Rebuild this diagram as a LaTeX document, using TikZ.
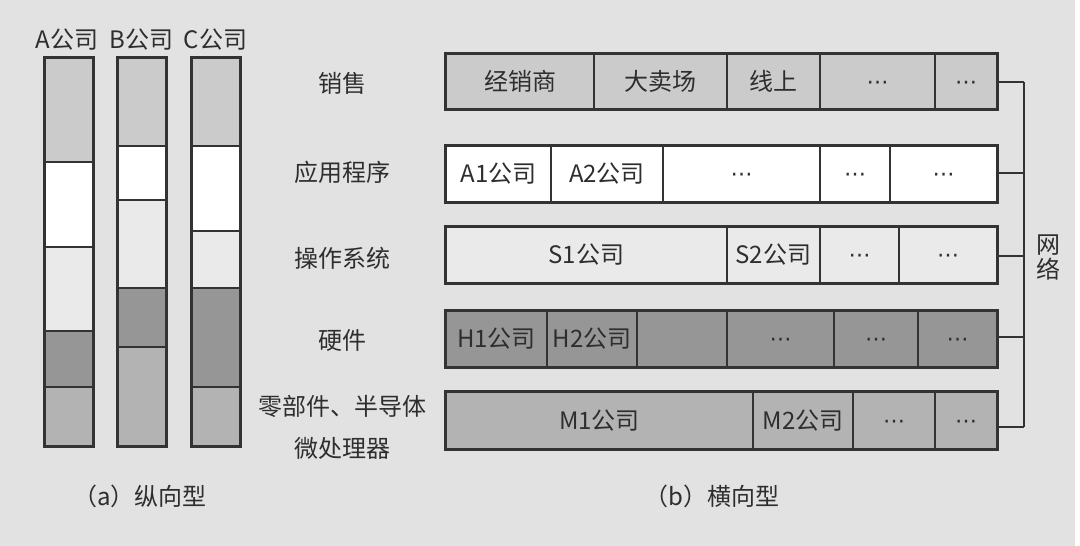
\documentclass[tikz,border=0pt]{standalone}
\usepackage{fontspec}
\setmainfont{Noto Sans CJK SC}
\newfontfamily\dvfont{DejaVu Sans}
\definecolor{bgc}{HTML}{E2E2E2}
\definecolor{linec}{HTML}{333333}
\definecolor{textc}{HTML}{2E2E2E}
\definecolor{csales}{HTML}{CBCBCB}
\definecolor{capp}{HTML}{FFFFFF}
\definecolor{cos}{HTML}{EAEAEA}
\definecolor{chw}{HTML}{969696}
\definecolor{cpart}{HTML}{B3B3B3}
\newcommand\mkcell[7]{\node[cell, fill=#6, minimum width={#3-#2}, minimum height={#5-#4}] (#1) at ({(#2+#3)/2},{(#4+#5)/2}) {#7};}
\newcommand\dts{\raisebox{-7.5pt}[0pt][0pt]{\dvfont\fontsize{22}{24}\selectfont ⋯}}
\begin{document}
\begin{tikzpicture}[x=1pt,y=-1pt,
  every node/.style={font=\fontsize{24}{25}\selectfont, text=textc},
  cell/.style={draw=linec, line width=1.1pt, inner sep=0pt, rectangle},
  frame/.style={draw=linec, line width=2pt},
  net/.style={draw=linec, line width=1.2pt},
  lbl/.style={inner sep=0pt}]
\useasboundingbox (0,0) rectangle (1080,546);
\fill[white] (0,0) rectangle (1080,546);
\fill[bgc] (0,0) rectangle (1075,546);

% ---- (a) vertical columns ----
\node[lbl] (la) at (67,40) {A公司};
\node[lbl] (lb) at (141.5,40) {B公司};
\node[lbl] (lc) at (215.5,40) {C公司};

\mkcell{a1}{45}{93}{58}{162}{csales}{}
\mkcell{a2}{45}{93}{162}{247}{capp}{}
\mkcell{a3}{45}{93}{247}{331}{cos}{}
\mkcell{a4}{45}{93}{331}{387}{chw}{}
\mkcell{a5}{45}{93}{387}{446}{cpart}{}
\draw[frame] (a1.north west) rectangle (a5.south east);

\mkcell{b1}{118}{166}{58}{146}{csales}{}
\mkcell{b2}{118}{166}{146}{200}{capp}{}
\mkcell{b3}{118}{166}{200}{288}{cos}{}
\mkcell{b4}{118}{166}{288}{347}{chw}{}
\mkcell{b5}{118}{166}{347}{446}{cpart}{}
\draw[frame] (b1.north west) rectangle (b5.south east);

\mkcell{c1}{192}{240}{58}{146}{csales}{}
\mkcell{c2}{192}{240}{146}{231}{capp}{}
\mkcell{c3}{192}{240}{231}{288}{cos}{}
\mkcell{c4}{192}{240}{288}{387}{chw}{}
\mkcell{c5}{192}{240}{387}{446}{cpart}{}
\draw[frame] (c1.north west) rectangle (c5.south east);

\node[lbl] (capa) at (140,496) {（a）纵向型};

% ---- row labels ----
\node[lbl] (t1) at (342,83) {销售};
\node[lbl] (t2) at (342,172) {应用程序};
\node[lbl] (t3) at (342,258) {操作系统};
\node[lbl] (t4) at (342,340) {硬件};
\node[lbl] (t5) at (342,406) {零部件、半导体};
\node[lbl] (t6) at (342,448) {微处理器};

% ---- (b) horizontal rows ----
\mkcell{r1a}{446}{594}{54}{109}{csales}{经销商}
\mkcell{r1b}{594}{727}{54}{109}{csales}{大卖场}
\mkcell{r1c}{727}{820}{54}{109}{csales}{线上}
\mkcell{r1d}{820}{935}{54}{109}{csales}{\dts}
\mkcell{r1e}{935}{997}{54}{109}{csales}{\dts}
\draw[frame] (r1a.north west) rectangle (r1e.south east);

\mkcell{r2a}{446}{551}{146}{202}{capp}{A1公司}
\mkcell{r2b}{551}{663}{146}{202}{capp}{A2公司}
\mkcell{r2c}{663}{820}{146}{202}{capp}{\dts}
\mkcell{r2d}{820}{890}{146}{202}{capp}{\dts}
\mkcell{r2e}{890}{997}{146}{202}{capp}{\dts}
\draw[frame] (r2a.north west) rectangle (r2e.south east);

\mkcell{r3a}{446}{727}{227}{283}{cos}{S1公司}
\mkcell{r3b}{727}{820}{227}{283}{cos}{S2公司}
\mkcell{r3c}{820}{899}{227}{283}{cos}{\dts}
\mkcell{r3d}{899}{997}{227}{283}{cos}{\dts}
\draw[frame] (r3a.north west) rectangle (r3d.south east);

\mkcell{r4a}{446}{547}{311}{367}{chw}{H1公司}
\mkcell{r4b}{547}{637}{311}{367}{chw}{H2公司}
\mkcell{r4c}{637}{727}{311}{367}{chw}{}
\mkcell{r4d}{727}{834}{311}{367}{chw}{\dts}
\mkcell{r4e}{834}{918}{311}{367}{chw}{\dts}
\mkcell{r4f}{918}{997}{311}{367}{chw}{\dts}
\draw[frame] (r4a.north west) rectangle (r4f.south east);

\mkcell{r5a}{446}{753}{392}{449}{cpart}{M1公司}
\mkcell{r5b}{753}{853}{392}{449}{cpart}{M2公司}
\mkcell{r5c}{853}{935}{392}{449}{cpart}{\dts}
\mkcell{r5d}{935}{997}{392}{449}{cpart}{\dts}
\draw[frame] (r5a.north west) rectangle (r5d.south east);

% ---- network ----
\coordinate (n1) at (1024,82);
\coordinate (n2) at (1024,173);
\coordinate (n3) at (1024,256);
\coordinate (n4) at (1024,337);
\coordinate (n5) at (1024,427);
\draw[net] (n1 -| r1e.east) -- (n1);
\draw[net] (n2 -| r2e.east) -- (n2);
\draw[net] (n3 -| r3d.east) -- (n3);
\draw[net] (n4 -| r4f.east) -- (n4);
\draw[net] (n5 -| r5d.east) -- (n5);
\draw[net] (n1) -- (n5);
\node[lbl, align=center] (netl) at (1048,257) {网\\络};

\node[lbl] (capb) at (712,496) {（b）横向型};
\end{tikzpicture}
\end{document}
